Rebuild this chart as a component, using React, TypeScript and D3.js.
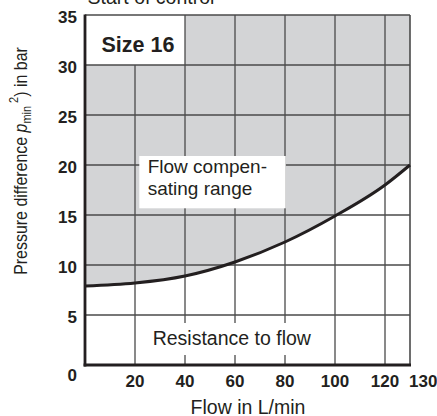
import React from "react";
import * as d3 from "d3";

const flow = [0, 20, 40, 60, 80, 100, 120, 130];
const pressure = [7.9, 8.2, 8.9, 10.3, 12.3, 14.9, 18.0, 20.0];
const xTicks = [20, 40, 60, 80, 100, 120, 130];
const yTicks = [0, 5, 10, 15, 20, 25, 30, 35];
const xGrid = [20, 40, 60, 80, 100, 120];
const yGrid = [5, 10, 15, 20, 25, 30];

const W = 437;
const H = 416;
const FONT = "'Liberation Sans', Arial, Helvetica, sans-serif";
const GRID = "#4a4a4a";
const FILL = "#d3d4d6";
const INK = "#231f20";

export default function App() {
  const x = d3.scaleLinear().domain([0, 130]).range([85, 410]);
  const y = d3.scaleLinear().domain([0, 35]).range([365, 15]);
  const pts = flow.map((f, i) => [f, pressure[i]] as [number, number]);

  const area = d3
    .area<[number, number]>()
    .x((d) => x(d[0]))
    .y0(y(35))
    .y1((d) => y(d[1]))
    .curve(d3.curveMonotoneX);
  const line = d3
    .line<[number, number]>()
    .x((d) => x(d[0]))
    .y((d) => y(d[1]))
    .curve(d3.curveMonotoneX);

  return (
    <svg
      width={W}
      height={H}
      style={{ position: "absolute", left: 0, top: 0, background: "#fff" }}
      fontFamily={FONT}
    >
      <rect x={0} y={0} width={W} height={H} fill="#fff" />
      {/* title cut off at top */}
      <text x={151} y={4} textAnchor="middle" fontSize={19.5} fill={INK}>
        Start of control
      </text>

      {/* shaded flow compensating range */}
      <path d={area(pts) || ""} fill={FILL} />
      {/* white "Size 16" box */}
      <rect x={x(0)} y={y(35)} width={x(40) - x(0)} height={y(30) - y(35)} fill="#fff" />

      {/* grid */}
      {xGrid.map((v) => (
        <line
          key={"vx" + v}
          x1={x(v)}
          x2={x(v)}
          y1={v === 20 ? y(30) : y(35)}
          y2={y(0)}
          stroke={GRID}
          strokeWidth={1.3}
        />
      ))}
      {yGrid.map((v) => (
        <line key={"hy" + v} x1={x(0)} x2={x(130)} y1={y(v)} y2={y(v)} stroke={GRID} strokeWidth={1.3} />
      ))}
      <line x1={x(0)} x2={x(130)} y1={y(35)} y2={y(35)} stroke={GRID} strokeWidth={1.3} />
      <line x1={x(130)} x2={x(130)} y1={y(35)} y2={y(0)} stroke={GRID} strokeWidth={1.6} />

      {/* label boxes */}
      <rect x={139.3} y={156} width={146.4} height={52.3} fill="#fff" />
      <rect x={150} y={323} width={166} height={32} fill="#fff" />

      {/* curve */}
      <path d={line(pts) || ""} fill="none" stroke={INK} strokeWidth={3} />

      {/* axes */}
      <line x1={x(0)} x2={x(0)} y1={y(35) - 0.5} y2={y(0) + 1.5} stroke={INK} strokeWidth={2.8} />
      <line x1={x(0) - 1.4} x2={x(130) + 1} y1={y(0)} y2={y(0)} stroke={INK} strokeWidth={2.8} />

      {/* tick labels */}
      {yTicks.map((v) => (
        <text
          key={"yt" + v}
          x={77}
          y={y(v) + (v === 0 ? 15.5 : 7.5)}
          textAnchor="end"
          fontSize={17}
          fontWeight="bold"
          fill={INK}
        >
          {v}
        </text>
      ))}
      {xTicks.map((v) => (
        <text
          key={"xt" + v}
          x={v === 130 ? x(v) - 1 : x(v)}
          y={387.3}
          textAnchor={v === 130 ? "start" : "middle"}
          fontSize={17}
          fontWeight="bold"
          fill={INK}
        >
          {v}
        </text>
      ))}

      {/* annotations */}
      <text x={101.5} y={51.7} fontSize={21.5} fontWeight="bold" fill={INK}>
        Size 16
      </text>
      <text x={147.7} y={173.3} fontSize={19} fill={INK}>
        Flow compen-
      </text>
      <text x={147.7} y={195} fontSize={19} fill={INK}>
        sating range
      </text>
      <text x={152.7} y={345} fontSize={19.5} fill={INK}>
        Resistance to flow
      </text>

      {/* axis titles */}
      <text x={248} y={414} textAnchor="middle" fontSize={19.5} fill={INK}>
        Flow in L/min
      </text>
      <text
        transform="translate(27,161) rotate(-90) scale(0.84,1)"
        textAnchor="middle"
        fontSize={19}
        fill={INK}
      >
        Pressure difference{" "}
        <tspan fontStyle="italic">p</tspan>
        <tspan fontSize={13} dy={4}>min</tspan>
        <tspan fontSize={13} dy={-13}>{" 2"}</tspan>
        <tspan dy={9}>) in bar</tspan>
      </text>
    </svg>
  );
}
